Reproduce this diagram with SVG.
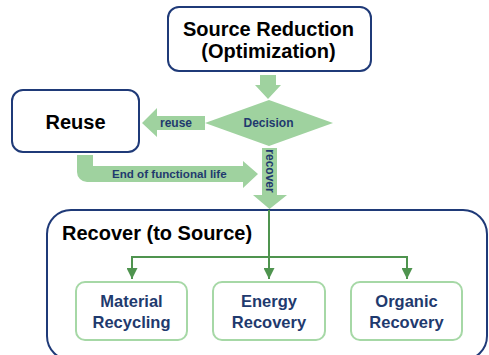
<svg xmlns="http://www.w3.org/2000/svg" width="489" height="355" viewBox="0 0 489 355">
<style>
.navybox{fill:#fff;stroke:#1f3a78;stroke-width:2}
.title{font-family:"Liberation Sans",Arial,sans-serif;font-weight:bold;font-size:20px;fill:#000}
.garrow{fill:#9fd29f}
.lbl{font-family:"Liberation Sans",Arial,sans-serif;font-weight:bold;font-size:12px;fill:#1f3a6e}
.sub{fill:#fff;stroke:#a6d8a6;stroke-width:2}
.subt{font-family:"Liberation Sans",Arial,sans-serif;font-weight:bold;font-size:16.5px;fill:#1f3a6e;text-anchor:middle}
.conn{fill:none;stroke:#4f944f;stroke-width:2}
</style>
<defs>
<marker id="ah" viewBox="0 0 10 10" refX="10" refY="5" markerWidth="5.5" markerHeight="5.5" orient="auto" markerUnits="strokeWidth">
<path d="M0,0 L10,5 L0,10 Z" fill="#4f944f"/>
</marker>
</defs>
<rect width="489" height="355" fill="#fff"/>

<g id="recover">
<rect class="navybox" x="47" y="210" width="440" height="150" rx="24"/>
<text class="title" x="62" y="240">Recover (to Source)</text>
</g>

<g id="source-reduction">
<rect class="navybox" x="168" y="7" width="203" height="64" rx="11"/>
<text class="title" x="268.5" y="36" text-anchor="middle">Source Reduction</text>
<text class="title" x="268.5" y="58" text-anchor="middle">(Optimization)</text>
</g>

<g id="reuse">
<rect class="navybox" x="12" y="90" width="127" height="62" rx="11"/>
<text class="title" x="75.5" y="129" text-anchor="middle">Reuse</text>
</g>

<g id="decision">
<polygon class="garrow" points="205,123 269,100 333,123 269,146"/>
<text class="lbl" x="268.5" y="127" text-anchor="middle">Decision</text>
</g>

<g id="connectors">
<path class="garrow" d="M260,75 H276 V85 H281 L268,99 L255,85 H260 Z"/>
<g id="edge-reuse">
<path class="garrow" d="M205,116 V130 H157 V137 L142,123 L157,108 V116 Z"/>
<text class="lbl" x="160" y="127">reuse</text>
</g>
<g id="edge-recover">
<path class="garrow" d="M262,148 H277 V195 H287 L269.5,209 L253,195 H262 Z"/>
<text class="lbl" x="266" y="171" text-anchor="middle" transform="rotate(90 266 171)">recover</text>
</g>
<g id="edge-eofl">
<path class="garrow" d="M77,155 H93 V166 H243 V161 L258,174 L243,188 V182 H87 A10,10 0 0 1 77,172 Z"/>
<text class="lbl" x="112" y="178" style="font-size:11.6px">End of functional life</text>
</g>
<path class="conn" d="M269,210 V279" marker-end="url(#ah)"/>
<path class="conn" d="M132,279 V257 H407 V279"/>
<path class="conn" d="M132,257 V279" marker-end="url(#ah)"/>
<path class="conn" d="M407,257 V279" marker-end="url(#ah)"/>
</g>

<g id="material-recycling">
<rect class="sub" x="76" y="282" width="111" height="58" rx="9"/>
<text class="subt" x="131.5" y="307">Material</text>
<text class="subt" x="131.5" y="328">Recycling</text>
</g>
<g id="energy-recovery">
<rect class="sub" x="213" y="282" width="112" height="58" rx="9"/>
<text class="subt" x="269" y="307">Energy</text>
<text class="subt" x="269" y="328">Recovery</text>
</g>
<g id="organic-recovery">
<rect class="sub" x="351" y="282" width="111" height="58" rx="9"/>
<text class="subt" x="406.5" y="307">Organic</text>
<text class="subt" x="406.5" y="328">Recovery</text>
</g>
</svg>
